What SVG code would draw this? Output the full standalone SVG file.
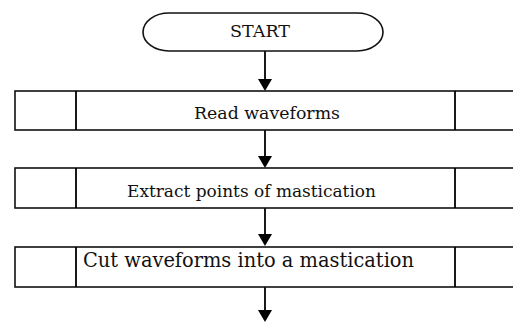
<svg xmlns="http://www.w3.org/2000/svg" width="513" height="322" viewBox="0 0 513 322">
<defs>
<style>
.box{fill:#fff;stroke:#111;stroke-width:1.6}
.div{stroke:#000;stroke-width:1.8}
.edge{stroke:#000;stroke-width:1.8;fill:none}
.head{fill:#000}
text{font-family:"DejaVu Serif","Liberation Serif",serif;fill:#111}
</style>
</defs>
<rect width="513" height="322" fill="#fff"/>
<g id="connectors">
<line class="edge" x1="265" y1="51" x2="265" y2="80"/>
<polygon class="head" points="258,79 272,79 265,91"/>
<line class="edge" x1="265" y1="130" x2="265" y2="157"/>
<polygon class="head" points="258,156 272,156 265,168"/>
<line class="edge" x1="265" y1="208" x2="265" y2="235"/>
<polygon class="head" points="258,234 272,234 265,246"/>
<line class="edge" x1="265" y1="287" x2="265" y2="311"/>
<polygon class="head" points="258,310 272,310 265,322"/>
</g>
<g id="start">
<rect class="box" x="143" y="13" width="240" height="38" rx="26" ry="19"/>
<text x="260" y="37" font-size="16.5" text-anchor="middle" textLength="60" lengthAdjust="spacingAndGlyphs">START</text>
</g>
<g id="read">
<rect class="box" x="15" y="91" width="510" height="39"/>
<line class="div" x1="76" y1="91" x2="76" y2="130"/>
<line class="div" x1="455" y1="91" x2="455" y2="130"/>
<text x="267" y="119" font-size="16.5" text-anchor="middle" textLength="146" lengthAdjust="spacingAndGlyphs">Read waveforms</text>
</g>
<g id="extract">
<rect class="box" x="15" y="168" width="510" height="40"/>
<line class="div" x1="76" y1="168" x2="76" y2="208"/>
<line class="div" x1="455" y1="168" x2="455" y2="208"/>
<text x="251.5" y="197" font-size="17" text-anchor="middle" textLength="249" lengthAdjust="spacingAndGlyphs">Extract points of mastication</text>
</g>
<g id="cut">
<rect class="box" x="15" y="247" width="510" height="40"/>
<line class="div" x1="76" y1="247" x2="76" y2="287"/>
<line class="div" x1="455" y1="247" x2="455" y2="287"/>
<text x="83" y="267" font-size="20" textLength="331" lengthAdjust="spacingAndGlyphs">Cut waveforms into a mastication</text>
</g>
</svg>
